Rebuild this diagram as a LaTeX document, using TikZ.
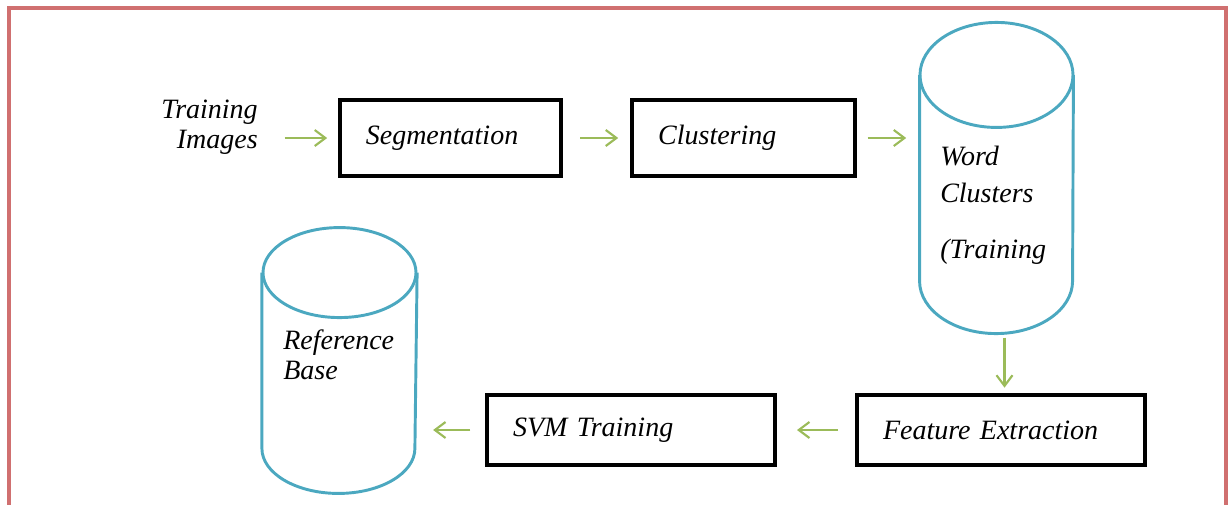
\documentclass[tikz,border=0pt]{standalone}
\usepackage{fontspec}
\setmainfont{Liberation Serif}
\usetikzlibrary{arrows.meta}
\definecolor{framered}{RGB}{208,112,112}
\definecolor{drumblue}{RGB}{75,168,192}
\definecolor{flowgreen}{RGB}{155,187,89}

\begin{document}
\begin{tikzpicture}[
  x=0.75pt, y=-0.75pt,
  every node/.style={font=\fontsize{21}{22.5}\selectfont\itshape, inner sep=0pt},
  stage/.style={draw, line width=3pt, inner xsep=19.5pt, text width=#1, align=left, minimum height=57pt},
  hull/.style={minimum width=#1},
  drum/.style={draw=drumblue, line width=2.2pt},
  flow/.style={draw=flowgreen, line width=1.6pt, -{Straight Barb[length=8pt,width=12pt]}},
  frame/.style={draw=framered, line width=2.4pt}
]
\useasboundingbox (0,0) rectangle (1228,504);
\draw[frame] (9,520) -- (9,8) -- (1226,8) -- (1226,520);

\node[anchor=north east, align=right] (ti) at (258,100) {Training\\Images};
\node[stage=127pt] (seg) at (450.5,138) {Segmentation};
\node[stage=128pt] (clu) at (743.5,138) {Clustering};
\node[stage=177pt, minimum height=52.5pt] (fea) at (1001,430) {Feature Extraction};
\node[stage=177pt, minimum height=52.5pt] (svm) at (631,430) {SVM Training};

\node[hull=115pt, minimum height=233pt] (wc) at (996.5,178) {};
\draw[drum] ([yshift=-39.4pt]wc.north) ellipse [x radius=76.5, y radius=52.5];
\draw[drum] ([yshift=-39.4pt]wc.north west) -- ([yshift=39.4pt]wc.south west)
  arc [start angle=180, end angle=0, x radius=76.5, y radius=52.5] -- ([yshift=-39.4pt]wc.north east);
\node[anchor=north west, align=left] (wc-t) at (940,146) {Word\\[5.25pt]Clusters\\[19.5pt](Training};
\coordinate (wc-out) at ([xshift=6pt]wc.south);

\node[hull=116pt, minimum height=199pt] (rb) at (339.5,360.5) {};
\draw[drum] ([yshift=-33.75pt]rb.north) ellipse [x radius=76.5, y radius=45];
\draw[drum] ([yshift=-33.75pt]rb.north west) -- ([yshift=33.75pt]rb.south west)
  arc [start angle=180, end angle=0, x radius=76.5, y radius=45] -- ([yshift=-33.75pt]rb.north east);
\node[anchor=north west, align=left] (rb-t) at (283,330) {Reference\\Base};

\foreach \src/\dst/\s/\t in {
  ti.east |- seg/seg.west/20/8,
  seg.east/clu.west/12.75/9,
  clu.east/clu.east -| wc.west/8/10,
  wc-out/wc-out |- fea.north/3/4,
  fea.west/svm.east/12.75/15,
  svm.west/svm.west -| rb.east/11/12
} {
  \draw[flow, shorten <=\s pt, shorten >=\t pt] (\src) -- (\dst);
}
\end{tikzpicture}
\end{document}
